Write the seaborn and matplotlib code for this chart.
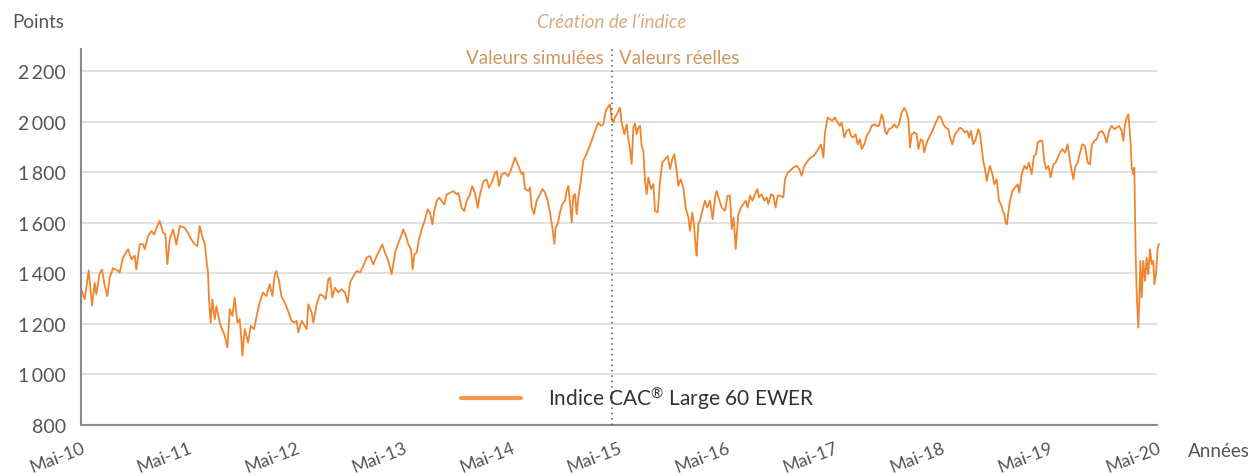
import numpy as np
import pandas as pd
import matplotlib
matplotlib.use("Agg")
import matplotlib.pyplot as plt
import seaborn as sns
from matplotlib.lines import Line2D

# ---------------- data (decimal years, index points) ----------------
t_a = [2010.335, 2010.366, 2010.403, 2010.434, 2010.459, 2010.474, 2010.505, 2010.527, 2010.552, 2010.577,
       2010.598, 2010.629, 2010.676, 2010.691, 2010.722, 2010.769, 2010.800, 2010.831, 2010.846, 2010.877,
       2010.908, 2010.924, 2010.955, 2010.986, 2011.010, 2011.047, 2011.063, 2011.094, 2011.116, 2011.134,
       2011.156, 2011.187, 2011.218, 2011.249, 2011.295, 2011.326, 2011.357, 2011.388, 2011.413, 2011.435,
       2011.466, 2011.481, 2011.497, 2011.512, 2011.521, 2011.537, 2011.552, 2011.574, 2011.590, 2011.621,
       2011.642, 2011.667, 2011.692, 2011.714, 2011.738, 2011.760, 2011.785, 2011.806, 2011.822, 2011.831,
       2011.853, 2011.884, 2011.909, 2011.940, 2011.961, 2011.992, 2012.023, 2012.054, 2012.085, 2012.110,
       2012.132, 2012.147, 2012.172, 2012.194, 2012.225, 2012.256, 2012.287, 2012.317]
v_a = [1335, 1297, 1412, 1272, 1363, 1317, 1400, 1415, 1350, 1310,
       1383, 1420, 1410, 1403, 1462, 1495, 1455, 1470, 1415, 1515,
       1515, 1495, 1547, 1567, 1554, 1593, 1607, 1560, 1554, 1436,
       1534, 1574, 1514, 1587, 1580, 1560, 1534, 1515, 1508, 1587,
       1534, 1520, 1455, 1403, 1297, 1205, 1297, 1218, 1270, 1205,
       1179, 1153, 1107, 1258, 1231, 1304, 1205, 1218, 1140, 1074,
       1179, 1126, 1192, 1179, 1225, 1284, 1324, 1310, 1357, 1310,
       1396, 1409, 1370, 1310, 1284, 1251, 1212, 1205]

t_b = [2012.336, 2012.351, 2012.382, 2012.429, 2012.444, 2012.475, 2012.491, 2012.522, 2012.553, 2012.584,
       2012.605, 2012.630, 2012.646, 2012.667, 2012.692, 2012.723, 2012.754, 2012.785, 2012.810, 2012.832,
       2012.863, 2012.894, 2012.925, 2012.955, 2012.986, 2013.017, 2013.048, 2013.079, 2013.110, 2013.132,
       2013.157, 2013.188, 2013.219, 2013.250, 2013.281, 2013.312, 2013.327, 2013.352, 2013.374, 2013.398,
       2013.414, 2013.430, 2013.451, 2013.473, 2013.498, 2013.529, 2013.553, 2013.575, 2013.597, 2013.615,
       2013.637, 2013.659, 2013.684, 2013.708, 2013.730, 2013.761, 2013.792, 2013.823, 2013.838, 2013.869,
       2013.894, 2013.916, 2013.947, 2013.968, 2013.993, 2014.018, 2014.040, 2014.071, 2014.102, 2014.123,
       2014.148, 2014.179, 2014.195, 2014.216, 2014.241, 2014.272, 2014.303, 2014.334]
v_b = [1212, 1166, 1212, 1179, 1278, 1245, 1205, 1278, 1317, 1310,
       1297, 1376, 1383, 1304, 1343, 1324, 1337, 1324, 1284, 1363,
       1389, 1409, 1403, 1429, 1462, 1468, 1435, 1468, 1495, 1514,
       1481, 1449, 1396, 1481, 1521, 1554, 1574, 1547, 1514, 1495,
       1416, 1475, 1481, 1534, 1574, 1613, 1653, 1640, 1593, 1646,
       1686, 1699, 1686, 1672, 1712, 1718, 1725, 1712, 1718, 1659,
       1646, 1686, 1712, 1745, 1718, 1659, 1712, 1764, 1771, 1738,
       1758, 1797, 1804, 1745, 1791, 1797, 1784, 1817]

t_c = [2014.365, 2014.396, 2014.427, 2014.442, 2014.458, 2014.489, 2014.504, 2014.520, 2014.542, 2014.566,
       2014.597, 2014.619, 2014.644, 2014.669, 2014.690, 2014.712, 2014.731, 2014.743, 2014.762, 2014.783,
       2014.805, 2014.830, 2014.845, 2014.861, 2014.876, 2014.892, 2014.907, 2014.923, 2014.938, 2014.954,
       2014.975, 2015.000, 2015.022, 2015.047, 2015.071, 2015.093, 2015.115, 2015.139, 2015.164, 2015.186,
       2015.208, 2015.226, 2015.248, 2015.263, 2015.279, 2015.294, 2015.319, 2015.341, 2015.356, 2015.381,
       2015.403, 2015.418, 2015.434, 2015.449, 2015.465, 2015.480, 2015.496, 2015.511, 2015.527, 2015.542,
       2015.558, 2015.573, 2015.589, 2015.604, 2015.629, 2015.651, 2015.666, 2015.691, 2015.713, 2015.734,
       2015.759, 2015.784, 2015.806, 2015.827, 2015.846, 2015.867, 2015.883, 2015.905, 2015.929, 2015.951,
       2015.976, 2015.991, 2016.013, 2016.029, 2016.044, 2016.053, 2016.069, 2016.084, 2016.106, 2016.131,
       2016.152, 2016.177, 2016.202, 2016.224, 2016.239, 2016.261, 2016.286, 2016.317, 2016.341, 2016.363,
       2016.379, 2016.397, 2016.416]
v_c = [1858, 1825, 1792, 1799, 1733, 1726, 1739, 1660, 1634, 1687,
       1713, 1733, 1720, 1687, 1641, 1582, 1516, 1582, 1595, 1641,
       1674, 1687, 1726, 1746, 1674, 1601, 1707, 1713, 1634, 1700,
       1759, 1845, 1864, 1891, 1917, 1943, 1970, 1996, 1983, 1989,
       2042, 2055, 2068, 2009, 1996, 2016, 2036, 2055, 1996, 1950,
       1989, 1930, 1891, 1832, 1976, 1992, 1950, 1976, 1983, 1904,
       1884, 1766, 1713, 1779, 1733, 1753, 1647, 1641, 1766, 1838,
       1851, 1864, 1812, 1851, 1871, 1805, 1746, 1772, 1739, 1660,
       1621, 1568, 1641, 1588, 1503, 1470, 1595, 1608, 1647, 1687,
       1660, 1687, 1614, 1700, 1726, 1693, 1660, 1647, 1707, 1707,
       1575, 1621, 1496]

t_d = [2016.441, 2016.465, 2016.487, 2016.509, 2016.527, 2016.549, 2016.571, 2016.595, 2016.617, 2016.633,
       2016.657, 2016.682, 2016.704, 2016.719, 2016.744, 2016.766, 2016.787, 2016.806, 2016.828, 2016.859,
       2016.874, 2016.899, 2016.921, 2016.952, 2016.983, 2017.007, 2017.029, 2017.054, 2017.076, 2017.097,
       2017.116, 2017.138, 2017.153, 2017.184, 2017.209, 2017.231, 2017.246, 2017.271, 2017.292, 2017.314,
       2017.339, 2017.364, 2017.385, 2017.401, 2017.426, 2017.447, 2017.469, 2017.488, 2017.509, 2017.531,
       2017.550, 2017.571, 2017.587, 2017.612, 2017.633, 2017.655, 2017.680, 2017.704, 2017.726, 2017.748,
       2017.773, 2017.788, 2017.804, 2017.819, 2017.841, 2017.866, 2017.890, 2017.912, 2017.934, 2017.959,
       2017.983, 2018.005, 2018.021, 2018.036, 2018.052, 2018.076, 2018.098, 2018.114, 2018.135, 2018.154,
       2018.169, 2018.191, 2018.213, 2018.237, 2018.262, 2018.284, 2018.305, 2018.324, 2018.346, 2018.367,
       2018.392, 2018.408, 2018.429]
v_d = [1634, 1660, 1674, 1687, 1660, 1707, 1687, 1713, 1733, 1700,
       1713, 1687, 1700, 1674, 1713, 1707, 1660, 1707, 1707, 1700,
       1772, 1799, 1805, 1818, 1825, 1812, 1786, 1825, 1838, 1851,
       1858, 1864, 1871, 1891, 1910, 1858, 1957, 2016, 2009, 2003,
       2016, 1996, 1983, 1996, 1937, 1963, 1970, 1943, 1937, 1950,
       1910, 1930, 1891, 1910, 1943, 1957, 1983, 1989, 1983, 1983,
       2029, 2009, 1963, 1950, 1970, 1976, 1989, 1976, 1989, 2036,
       2055, 2036, 2009, 1897, 1950, 1957, 1950, 1891, 1930, 1924,
       1878, 1917, 1937, 1957, 1983, 2003, 2022, 2016, 1989, 1976,
       1970, 1937, 1910]

t_e = [2018.454, 2018.479, 2018.501, 2018.522, 2018.547, 2018.569, 2018.584, 2018.603, 2018.624, 2018.646,
       2018.671, 2018.687, 2018.702, 2018.717, 2018.733, 2018.749, 2018.764, 2018.779, 2018.801, 2018.820,
       2018.841, 2018.863, 2018.882, 2018.897, 2018.913, 2018.925, 2018.937, 2018.950, 2018.965, 2018.987,
       2019.012, 2019.037, 2019.052, 2019.074, 2019.099, 2019.120, 2019.142, 2019.167, 2019.188, 2019.207,
       2019.223, 2019.244, 2019.266, 2019.284, 2019.300, 2019.322, 2019.343, 2019.368, 2019.390, 2019.409,
       2019.430, 2019.452, 2019.477, 2019.501, 2019.523, 2019.538, 2019.554, 2019.570, 2019.594, 2019.616,
       2019.638, 2019.662, 2019.687, 2019.709, 2019.724, 2019.749, 2019.771, 2019.793, 2019.817, 2019.839,
       2019.864, 2019.885, 2019.910, 2019.935, 2019.957, 2019.978, 2020.003, 2020.019, 2020.034, 2020.050,
       2020.065, 2020.074, 2020.087, 2020.096, 2020.112, 2020.121, 2020.127, 2020.133, 2020.143, 2020.152,
       2020.158, 2020.167, 2020.177, 2020.189, 2020.204, 2020.220, 2020.235, 2020.251, 2020.266, 2020.282,
       2020.297, 2020.307, 2020.322, 2020.338, 2020.350]
v_e = [1950, 1963, 1976, 1970, 1957, 1963, 1937, 1963, 1910, 1930,
       1970, 1950, 1897, 1844, 1812, 1765, 1798, 1825, 1792, 1752,
       1772, 1686, 1673, 1647, 1634, 1600, 1594, 1640, 1686, 1726,
       1739, 1752, 1719, 1792, 1825, 1812, 1838, 1792, 1864, 1871,
       1917, 1924, 1924, 1844, 1812, 1825, 1779, 1831, 1838, 1858,
       1877, 1891, 1877, 1910, 1844, 1805, 1772, 1818, 1838, 1877,
       1910, 1904, 1838, 1831, 1904, 1924, 1930, 1957, 1963, 1950,
       1917, 1963, 1983, 1970, 1976, 1983, 1963, 1924, 1989, 2016,
       2029, 1989, 1910, 1818, 1792, 1818, 1647, 1476, 1317, 1238,
       1185, 1291, 1449, 1304, 1449, 1370, 1462, 1396, 1495, 1436,
       1449, 1357, 1396, 1502, 1515]

series_name = "Indice CAC\u00ae Large 60 EWER"
legend_label = "Indice CAC$^{\u00ae}$ Large 60 EWER"
creation_year = 2015.266
tick_years = [2010.3315 + k for k in range(11)]
tick_labels = ["Mai-10", "Mai-11", "Mai-12", "Mai-13", "Mai-14", "Mai-15",
               "Mai-16", "Mai-17", "Mai-18", "Mai-19", "Mai-20"]
y_ticks = [800, 1000, 1200, 1400, 1600, 1800, 2000, 2200]
y_labels = ["800", "1\u2009000", "1\u2009200", "1\u2009400", "1\u2009600",
            "1\u2009800", "2\u2009000", "2\u2009200"]

df = pd.DataFrame({
    "t": t_a + t_b + t_c + t_d + t_e,
    "v": v_a + v_b + v_c + v_d + v_e,
})
df["s"] = series_name

# ---------------- style ----------------
sns.set_theme(style="white")
plt.rcParams["font.family"] = ["Lato", "DejaVu Sans"]
plt.rcParams["mathtext.fontset"] = "custom"
plt.rcParams["mathtext.rm"] = "Lato"
plt.rcParams["mathtext.it"] = "Lato"

ORANGE = "#f0852d"
GREY_TXT = "#555555"
AX_GREY = "#8a8a8a"

fig = plt.figure(figsize=(12.6, 4.77), dpi=100)
ax = fig.add_axes([81 / 1260, 1 - 426 / 477, (1157 - 81) / 1260, (426 - 50) / 477])

sns.lineplot(data=df, x="t", y="v", hue="s", palette=[ORANGE], estimator=None,
             sort=False, linewidth=1.3, ax=ax, legend=False, clip_on=False)

ax.set_xlim(tick_years[0], tick_years[-1])
ax.set_ylim(800, 2287)

ax.set_yticks(y_ticks)
ax.set_yticklabels(y_labels, fontsize=14, color=GREY_TXT)
ax.set_xticks(tick_years)
ax.set_xticklabels(tick_labels, fontsize=13, color=GREY_TXT,
                   rotation=21, ha="right", rotation_mode="anchor")
ax.tick_params(axis="x", direction="out", length=6, width=1, color=AX_GREY, pad=4)
ax.tick_params(axis="y", direction="out", length=5, width=1, color=AX_GREY, pad=6)

for yv in y_ticks[1:]:
    ax.axhline(yv, color="#dcdcdc", linewidth=1.2, zorder=0)

for side in ["top", "right"]:
    ax.spines[side].set_visible(False)
for side in ["left", "bottom"]:
    ax.spines[side].set_color(AX_GREY)
    ax.spines[side].set_linewidth(1.5)

ax.set_xlabel("")
ax.set_ylabel("")

# creation line
ax.axvline(creation_year, ymin=0, ymax=1.0, color="#555555", linestyle=(0, (1, 2.5)),
           linewidth=1.1, zorder=3)

# annotations
fig.text(12 / 1260, 1 - 22 / 477, "Points", fontsize=13.5, color=GREY_TXT,
         ha="left", va="center")
fig.text(612 / 1260, 1 - 22 / 477, "Cr\u00e9ation de l\u2019indice", fontsize=13.5,
         color="#d9aa80", style="italic", ha="center", va="center")
fig.text(604 / 1260, 1 - 58 / 477, "Valeurs simul\u00e9es", fontsize=13.5,
         color="#d09660", ha="right", va="center")
fig.text(619 / 1260, 1 - 58 / 477, "Valeurs r\u00e9elles", fontsize=13.5,
         color="#d09660", ha="left", va="center")
fig.text(1188 / 1260, 1 - 452 / 477, "Ann\u00e9es", fontsize=13.5, color=GREY_TXT,
         ha="left", va="center")

# legend
handle = Line2D([], [], color="#f59a4e", linewidth=3)
leg = ax.legend([handle], [legend_label], loc="center left",
                bbox_to_anchor=((461 - 81) / 1076, (426 - 399) / 376),
                frameon=False, fontsize=15, handlelength=2.9, handletextpad=1.3,
                borderaxespad=0, borderpad=0)
for txt in leg.get_texts():
    txt.set_color("#333333")

fig.savefig("out.png", dpi=100, facecolor="white")
